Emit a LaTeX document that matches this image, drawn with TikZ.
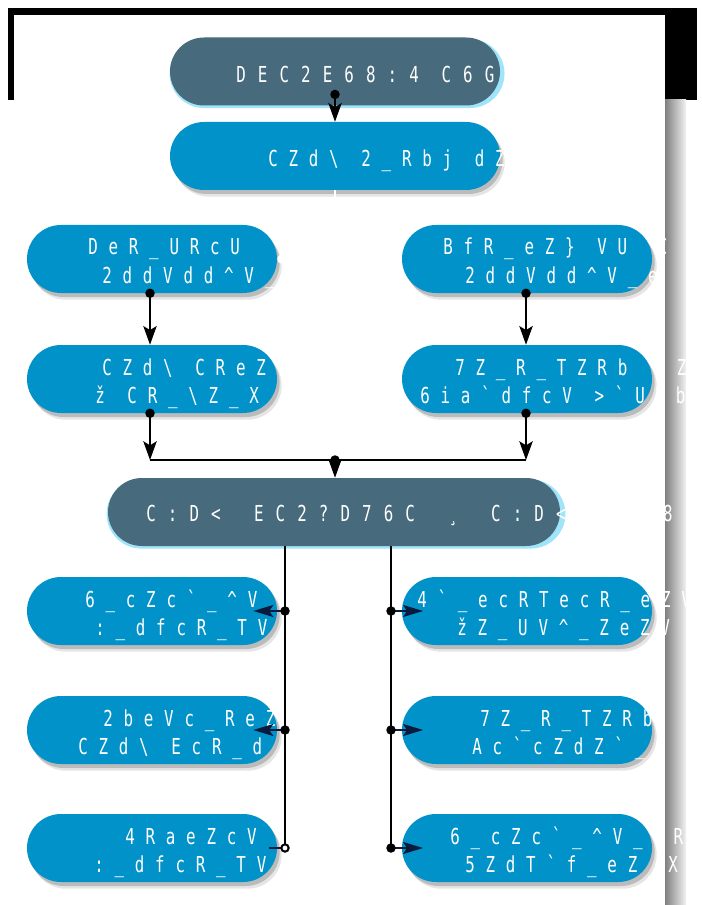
\documentclass[tikz,border=0pt]{standalone}
\usepackage{fontspec}
\usetikzlibrary{arrows.meta,shapes.misc,shadows}
\newfontfamily\pillfont[FakeStretch=0.72,LetterSpace=49]{DejaVu Sans Mono}
\newfontfamily\hubfont[FakeStretch=0.72,LetterSpace=55]{DejaVu Sans Mono}
\definecolor{pillblue}{RGB}{0,146,200}
\definecolor{slate}{RGB}{71,106,124}
\definecolor{navy}{RGB}{10,26,60}
\definecolor{glow}{RGB}{160,228,250}
\newcommand{\tUs}{\symbol{95}}
\newcommand{\tBs}{\symbol{92}}
\newcommand{\tCa}{\symbol{94}}
\newcommand{\tGr}{\symbol{96}}
\newcommand{\tRb}{\symbol{125}}
\newcommand{\sk}{\hspace{17pt}}
\newcommand{\hsk}{\hspace{25pt}}

\begin{document}
\begin{tikzpicture}[x=0.75pt,y=-0.75pt,line join=round,
  bluepill/.style={rounded rectangle, fill=pillblue, minimum height=51pt, inner sep=0pt,
    general shadow={fill=black, opacity=.10, shadow xshift=3.5pt, shadow yshift=-5pt},
    general shadow={fill=black, opacity=.18, shadow xshift=2pt, shadow yshift=-3pt}},
  slatepill/.style={rounded rectangle, fill=slate, minimum height=51pt, inner sep=0pt,
    general shadow={fill=glow, shadow xshift=1.5pt, shadow yshift=-1.5pt, shadow scale=1.015}},
  wide/.style={minimum width=247.5pt},
  half/.style={minimum width=187.5pt},
  txt/.style={anchor=base west, inner sep=0pt, text=white, font=\pillfont\fontsize{16.5}{18}\selectfont},
  hubtxt/.style={txt, font=\hubfont\fontsize{16.5}{18}\selectfont},
  link/.style={line width=1.5pt, {Circle[length=7pt]}-{Stealth[length=14pt,width=10pt,inset=3pt]}},
  side/.style={line width=1.5pt, navy, {Circle[length=7pt,color=black]}-{Stealth[length=15pt,width=9pt,inset=3pt]}},
  trunk/.style={line width=1.5pt},
  ghost/.style={line width=1.5pt, white},
]
\useasboundingbox (0,0) rectangle (701,905);
% backdrop
\fill[black] (8,8) rectangle (697,100);
\fill[white] (14,15) rectangle (665,905);
\shade[left color=black!50, right color=black!5] (665,100) rectangle (686,905);

% pills
\node[slatepill, wide] (title) at (335,71.5) {};
\node[bluepill, wide] (intro) at (335,156) {};
\node[bluepill, half] (lefta) at (152,259) {};
\node[bluepill, half] (righta) at (527,259) {};
\node[bluepill, half] (leftb) at (152,379) {};
\node[bluepill, half] (rightb) at (527,379) {};
\node[slatepill, minimum width=339pt] (hub) at (334,512) {};
\node[bluepill, half] (outla) at (152,611) {};
\node[bluepill, half] (outra) at (527,611) {};
\node[bluepill, half] (outlb) at (152,730) {};
\node[bluepill, half] (outrb) at (527,730) {};
\node[bluepill, half] (outlc) at (152,848) {};
\node[bluepill, half] (outrc) at (527,848) {};

% labels
\node[hubtxt] (titlet) at (236,82.5) {DEC2E68:4\sk C6G:};
\node[txt] (introt) at (268,167) {CZd\tBs\sk 2\tUs Rbj\sk dZ};
\node[txt] (leftat) at (88,255) {DeR\tUs URcU};
\node[txt] (leftab) at (102,283) {2ddVdd\tCa V\tUs};
\node[txt] (rightat) at (443,255) {BfR\tUs eZ\tRb\sk VU\hspace{23pt}C};
\node[txt] (rightab) at (465,283) {2ddVdd\tCa V\tUs e};
\node[txt] (leftbt) at (102,375) {CZd\tBs\sk CReZ};
\node[txt] (leftbb) at (95,403) {ž\sk CR\tUs\tBs Z\tUs X};
\node[txt] (rightbt) at (455,375) {7Z\tUs R\tUs TZRb\hspace{22pt}CZ};
\node[txt] (rightbb) at (420,403) {6ia\tGr dfcV\sk >\tGr UVb};
\node[hubtxt] (hubt) at (146,521) {C:D<\hsk EC2?D76C\hsk ¸\hsk C:D<\hspace{73pt}8};
\node[txt] (outlat) at (85,607) {6\tUs cZc\tGr\tUs\tCa V};
\node[txt] (outlab) at (95,635) {:\tUs dfcR\tUs TV};
\node[txt] (outrat) at (417,607) {4\tGr\tUs ecRTecR\tUs eZV};
\node[txt] (outrab) at (457,635) {žZ\tUs UV\tCa\tUs ZeZV};
\node[txt] (outlbt) at (103,726) {2beVc\tUs ReZ};
\node[txt] (outlbb) at (78,754) {CZd\tBs\sk EcR\tUs d};
\node[txt] (outrbt) at (480,726) {7Z\tUs R\tUs TZRb};
\node[txt] (outrbb) at (472,754) {Ac\tGr cZdZ\tGr\tUs d};
\node[txt] (outlct) at (125,844) {4RaeZcV};
\node[txt] (outlcb) at (94,872) {:\tUs dfcR\tUs TV};
\node[txt] (outrct) at (450,844) {6\tUs cZc\tGr\tUs\tCa V\tUs eR};
\node[txt] (outrcb) at (465,872) {5ZdT\tGr f\tUs eZ\tUs X};

% junctions
\coordinate (mrg) at (335,460);
\coordinate (la) at (285,611);
\coordinate (lb) at (285,730);
\coordinate (lc) at (285,848);
\coordinate (ra) at (391,611);
\coordinate (rb) at (391,730);
\coordinate (rc) at (391,848);

% connectors
\draw[link] ([yshift=12pt]title.south) -- (intro.north);
\draw[ghost] (intro.south) -- ++(0,15);
\draw[ghost, {Circle[length=7pt]}-] (lefta.east) -- (righta.west);
\draw[link] ([yshift=3.5pt]lefta.south -| 150,0) -- (leftb.north -| 150,0);
\draw[link] ([yshift=3.5pt]righta.south -| 526,0) -- (rightb.north -| 526,0);
\draw[link] ([yshift=3.5pt]leftb.south -| 150,0) -- (mrg -| 150,0);
\draw[link] ([yshift=3.5pt]rightb.south -| 526,0) -- (mrg -| 526,0);
\draw[trunk] (mrg -| 150,0) -- (mrg -| 526,0);
\draw[link] ([yshift=3.5pt]mrg) -- (hub.north -| mrg);
\draw[trunk] (hub.south -| la) -- (lc);
\draw[trunk] (hub.south -| ra) -- (rc);
\draw[side] ([xshift=3.5pt]la) -- ([xshift=-18pt]outla.east);
\draw[side] ([xshift=3.5pt]lb) -- ([xshift=-18pt]outlb.east);
\draw[line width=1.5pt, navy, {Circle[length=7pt,color=black,fill=white]}-] ([xshift=3.5pt]lc) -- ([xshift=-6pt]outlc.east);
\draw[side] ([xshift=-3.5pt]ra) -- ([xshift=16pt]outra.west);
\draw[side] ([xshift=-3.5pt]rb) -- ([xshift=16pt]outrb.west);
\draw[side] ([xshift=-3.5pt]rc) -- ([xshift=16pt]outrc.west);
\end{tikzpicture}
\end{document}
